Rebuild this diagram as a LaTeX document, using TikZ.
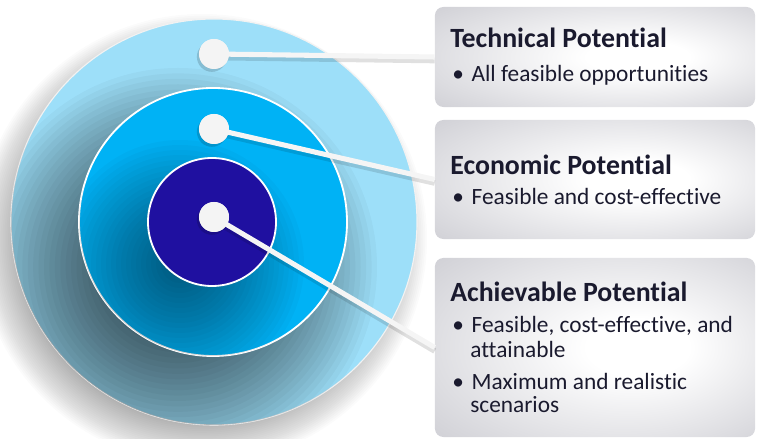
\documentclass[tikz,border=0pt]{standalone}
\usepackage{fontspec}
\setmainfont{Carlito}[Ligatures=NoCommon]
\definecolor{outerblue}{RGB}{157,223,249}
\definecolor{midblue}{RGB}{0,178,245}
\definecolor{innerblue}{RGB}{31,16,160}
\definecolor{dotwhite}{RGB}{244,244,244}
\definecolor{boxgray}{RGB}{188,188,196}
\definecolor{txtnavy}{RGB}{26,26,46}
\pgfdeclareradialshading{boxshade}{\pgfpoint{8bp}{0bp}}{color(0bp)=(white); color(8bp)=(white); color(50bp)=(boxgray)}
\newcommand{\softshadow}[5]{% centre x, centre y, radius, spread, opacity
  \foreach \k in {0,...,23}
    \fill[black, fill opacity=#5] (#1,#2) circle[radius={#3+#4-\k*#4/12}];
}
\tikzset{
  ring/.style={draw=white, line width=1.3pt},
  pin/.style={circle, fill=dotwhite, inner sep=0pt, minimum size=0.75cm},
  infobox/.style={rounded corners=6pt, shading=boxshade, minimum width=8cm},
  link/.style={draw=white!92!gray, line width=3.6pt},
  linkshadow/.style={draw=black, draw opacity=0.12, line width=4pt},
  title/.style={anchor=base west, inner sep=0pt, text=txtnavy, font=\fontsize{19.8}{22}\selectfont\bfseries},
  item/.style={anchor=base west, inner sep=0pt, text=txtnavy, font=\fontsize{16.6}{18}\selectfont},
}

\begin{document}
\begin{tikzpicture}[x=0.025cm, y=0.025cm]
  \useasboundingbox (0,0) rectangle (759,439);

  %outer ring and its shadow
  \softshadow{202}{200}{203}{22}{0.016}
  \fill[outerblue] (214,217) circle[radius=203];
  \draw[white!90!gray, line width=0.8pt] (214,217) circle[radius=203];

  %middle ring, shadow falls on the outer ring
  \begin{scope}
    \clip (214,217) circle[radius=203];
    \softshadow{178}{172}{134}{65}{0.03}
  \end{scope}
  \fill[midblue] (213,217) circle[radius=134];
  \draw[ring] (213,217) circle[radius=134];

  %inner ring, shadow falls on the middle ring
  \begin{scope}
    \clip (213,217) circle[radius=134];
    \softshadow{180}{175}{64}{60}{0.022}
  \end{scope}
  \fill[innerblue] (212,217) circle[radius=64];
  \draw[ring] (212,217) circle[radius=64];

  %boxes
  \node[infobox, minimum height=2.5cm] (boxTech) at (595,382) {};
  \node[infobox, minimum height=2.975cm] (boxEcon) at (595,259.5) {};
  \node[infobox, minimum height=4.475cm] (boxAch) at (595,91.5) {};

  %pins
  \node[pin] (dotTech) at (214,385) {};
  \node[pin] (dotEcon) at (214,310) {};
  \node[pin] (dotAch) at (214,222) {};

  %leader lines
  \foreach \d/\b in {dotTech/boxTech, dotEcon/boxEcon, dotAch/boxAch}{
    \draw[linkshadow] ([yshift=-2.5pt]\d.center) -- ([yshift=-2.5pt]\b.west);
    \draw[link] (\d.center) -- (\b.west);
  }
  \foreach \d in {dotTech, dotEcon, dotAch}{
    \fill[black, fill opacity=0.15] ([xshift=-1.5pt, yshift=-2pt]\d.center) circle[radius=15];
    \node[pin] at (\d) {};
  }

  %texts
  \node[title] (tTech) at (450,391) {Technical Potential};
  \node[item] (iTech) at (452,357) {\textbullet\hspace{5.5pt}All feasible opportunities};

  \node[title] (tEcon) at (450,264) {Economic Potential};
  \node[item] (iEcon) at (452,234) {\textbullet\hspace{5.5pt}Feasible and cost-effective};

  \node[title] (tAch) at (450,137) {Achievable Potential};
  \node[item] (iAchA) at (452,106) {\textbullet\hspace{5.5pt}Feasible, cost-effective, and};
  \node[item] (iAchB) at (470,81) {attainable};
  \node[item] (iAchC) at (452,49) {\textbullet\hspace{5.5pt}Maximum and realistic};
  \node[item] (iAchD) at (470,26) {scenarios};
\end{tikzpicture}
\end{document}
